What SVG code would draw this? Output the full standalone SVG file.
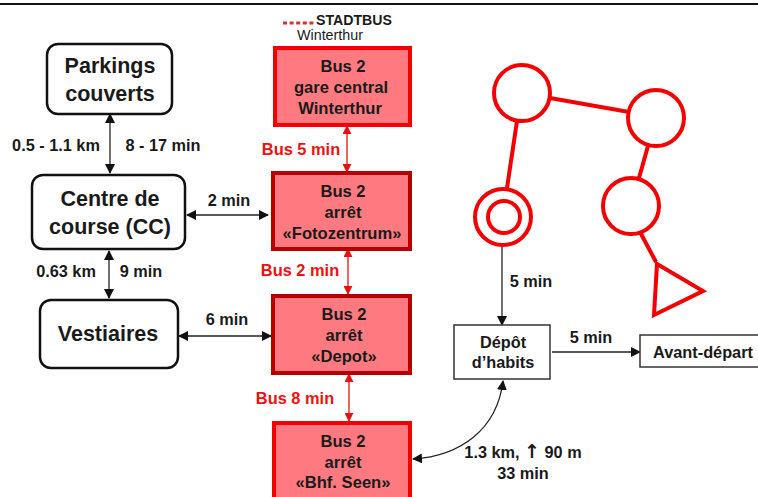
<svg xmlns="http://www.w3.org/2000/svg" width="758" height="497" viewBox="0 0 758 497">
<style>
text{font-family:"Liberation Sans",Arial,sans-serif;font-weight:700;fill:#1a1a1a;text-anchor:middle}
.n{font-size:21.5px}.b{font-size:16.6px}.r{fill:#f01010;font-size:16.4px}.s{font-size:16.3px}
.rb{fill:#ff7a80;stroke:#f50000;stroke-width:4}.rd{fill:#ff7a80;stroke:#b80000;stroke-width:4}
.w{fill:#fff;stroke:#111;stroke-width:2.5}.g{fill:#fff;stroke:#333;stroke-width:1.5}
.c{fill:none;stroke:#222;stroke-width:1.3}.cr{fill:none;stroke:#e81010;stroke-width:1.3}
.o{fill:#fff;stroke:#f50000;stroke-width:4}.l{stroke:#f50000;stroke-width:4;fill:none}
</style>
<defs>
<marker id="a" viewBox="0 0 10 10" refX="9" refY="5" markerWidth="10" markerHeight="10" markerUnits="userSpaceOnUse" orient="auto-start-reverse"><path d="M0 0L10 5L0 10Z" fill="#111"/></marker>
<marker id="ar" viewBox="0 0 10 10" refX="9" refY="5" markerWidth="9" markerHeight="9" markerUnits="userSpaceOnUse" orient="auto-start-reverse"><path d="M0 0L10 5L0 10Z" fill="#e81010"/></marker>
</defs>
<rect width="758" height="497" fill="#fff"/>
<rect x="0" y="3" width="758" height="2" fill="#111"/>
<g id="connectors">
<path class="c" d="M110 114V173" marker-start="url(#a)" marker-end="url(#a)"/>
<path class="c" d="M109 251V298" marker-start="url(#a)" marker-end="url(#a)"/>
<path class="c" d="M187 215H268" marker-start="url(#a)" marker-end="url(#a)"/>
<path class="c" d="M179 336H271" marker-start="url(#a)" marker-end="url(#a)"/>
<path class="c" d="M502 247V325" marker-end="url(#a)"/>
<path class="c" d="M552 352H640" marker-end="url(#a)"/>
<path class="c" d="M413 459C460 456 497 430 503 381" marker-start="url(#a)" marker-end="url(#a)"/>
<path class="cr" d="M347 126V172" marker-start="url(#ar)" marker-end="url(#ar)"/>
<path class="cr" d="M348 249V294" marker-start="url(#ar)" marker-end="url(#ar)"/>
<path class="cr" d="M349 374V421" marker-start="url(#ar)" marker-end="url(#ar)"/>
</g>
<g id="logo">
<path d="M283 23H315" stroke="#d83030" stroke-width="3" stroke-dasharray="4 2.6"/>
<text x="354" y="25" style="font-size:14.5px" textLength="76" lengthAdjust="spacingAndGlyphs">STADTBUS</text>
<text x="330" y="40" style="font-size:15px;font-weight:400" textLength="66" lengthAdjust="spacingAndGlyphs">Winterthur</text>
</g>
<g id="parkings"><rect class="w" x="47" y="44" width="125" height="70" rx="11"/><text class="n" x="110" y="73">Parkings</text><text class="n" x="110" y="101">couverts</text></g>
<g id="centre"><rect class="w" x="32" y="175" width="153" height="74" rx="11"/><text class="n" x="110" y="206">Centre de</text><text class="n" x="110" y="234">course (CC)</text></g>
<g id="vestiaires"><rect class="w" x="40" y="300" width="138" height="68" rx="11"/><text class="n" x="108" y="341">Vestiaires</text></g>
<g id="bus-gare"><rect class="rb" x="275" y="48" width="135" height="77"/><text class="b" x="343" y="72">Bus 2</text><text class="b" x="341" y="93">gare central</text><text class="b" x="340" y="114">Winterthur</text></g>
<g id="bus-foto"><rect class="rd" x="273" y="173" width="137" height="76"/><text class="b" x="343" y="197">Bus 2</text><text class="b" x="343" y="218">arrêt</text><text class="b" x="342" y="239">«Fotozentrum»</text></g>
<g id="bus-depot"><rect class="rd" x="273" y="296" width="137" height="77"/><text class="b" x="344" y="320">Bus 2</text><text class="b" x="344" y="341">arrêt</text><text class="b" x="344" y="362">«Depot»</text></g>
<g id="bus-seen"><rect class="rb" x="274" y="423" width="136" height="78"/><text class="b" x="343" y="447">Bus 2</text><text class="b" x="343" y="468">arrêt</text><text class="b" x="343" y="488">«Bhf. Seen»</text></g>
<g id="route">
<path class="l" d="M517 121L507 188M550 98L629 112M648 146L639 178M640 232L656 262"/>
<circle class="o" cx="522" cy="93" r="28"/><circle class="o" cx="656" cy="118" r="28"/><circle class="o" cx="631" cy="206" r="28"/>
<circle class="o" cx="503" cy="217" r="28"/><circle class="o" cx="504" cy="217" r="16"/>
<path class="l" d="M657 264L703 291L654 315Z"/>
</g>
<g id="depot"><rect class="g" x="454" y="325" width="96" height="54"/><text class="s" x="503" y="348">Dépôt</text><text class="s" x="503" y="368">d’habits</text></g>
<g id="avant"><rect class="g" x="640" y="335" width="120" height="32"/><text class="s" x="703" y="358">Avant-départ</text></g>
<g id="labels">
<text class="s" x="56" y="151">0.5 - 1.1 km</text><text class="s" x="163" y="151">8 - 17 min</text>
<text class="s" x="229" y="206">2 min</text><text class="s" x="66" y="277">0.63 km</text><text class="s" x="141" y="277">9 min</text>
<text class="s" x="227" y="325">6 min</text><text class="s" x="531" y="287">5 min</text><text class="s" x="591" y="343">5 min</text>
<text class="r" x="301" y="155">Bus 5 min</text><text class="r" x="300" y="276">Bus 2 min</text><text class="r" x="295" y="404">Bus 8 min</text>
<text class="s" x="523" y="458">1.3 km, <tspan font-family="DejaVu Sans" font-size="19">↑</tspan> 90 m</text><text class="s" x="523" y="479">33 min</text>
</g>
</svg>
